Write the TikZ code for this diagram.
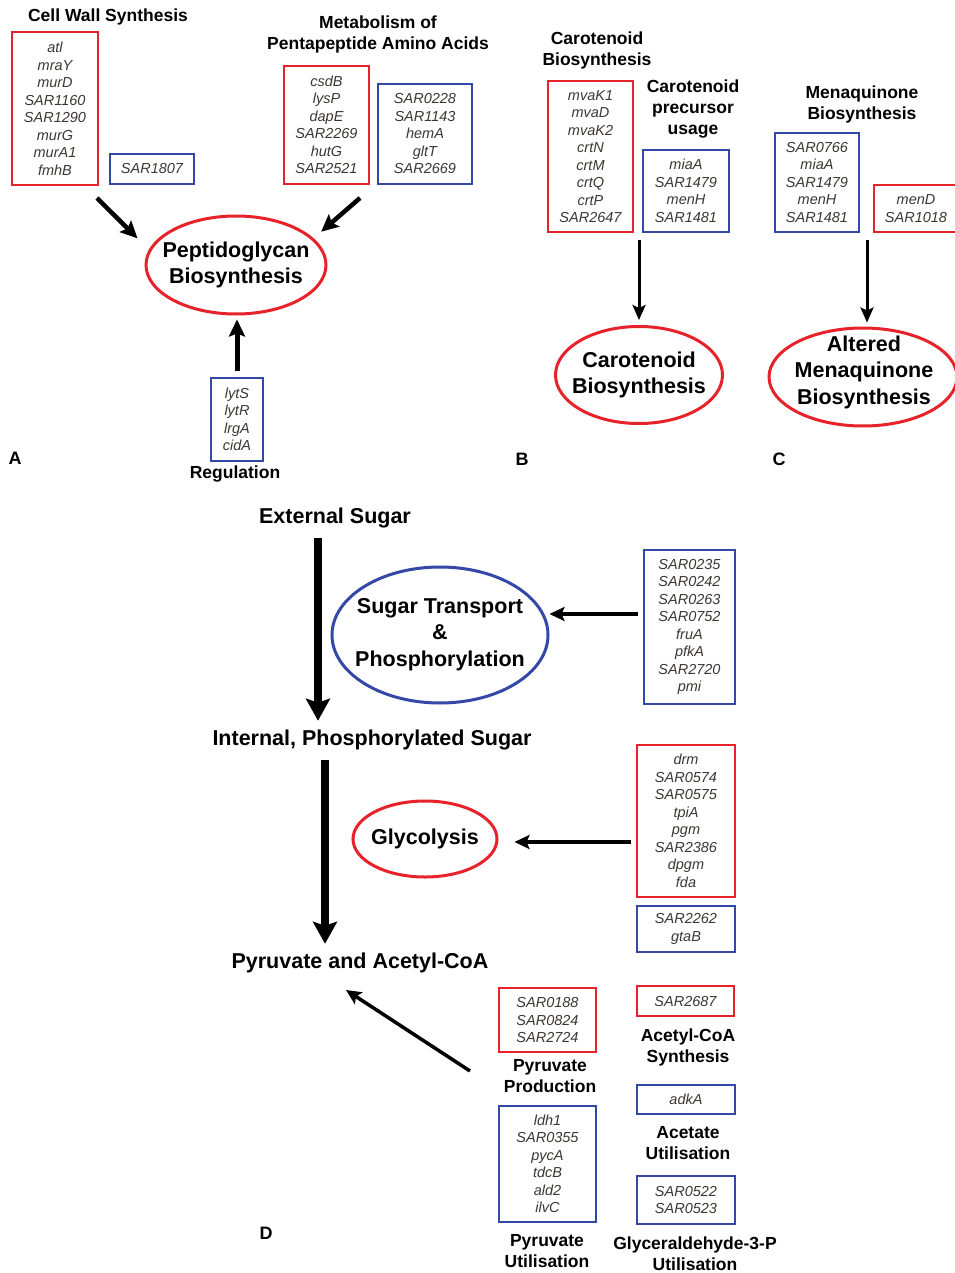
\documentclass[tikz,border=0pt]{standalone}
\usepackage{fontspec}
\setmainfont{Liberation Sans}
\usetikzlibrary{shapes.geometric,arrows.meta,calc}
\definecolor{rd}{RGB}{232,34,42}
\definecolor{bl}{RGB}{52,72,168}
\definecolor{gtxt}{RGB}{60,55,50}
\newcommand\gbox[7]{\node[gbox, draw=#2, minimum width={(#5-#3)*1pt}, minimum height={(#6-#4)*1pt}] (#1) at ({(#3+#5)/2},{-(#4+#6)/2}) {#7};}
\tikzset{
  gbox/.style={rectangle, line width=2.5pt, inner sep=0pt, align=center, text=gtxt,
    font=\fontsize{14.5}{17.5}\selectfont\itshape},
  ttl/.style={inner sep=0pt, align=center, text=black, font=\fontsize{17.5}{21}\selectfont\bfseries},
  big/.style={inner sep=0pt, align=center, text=black, font=\fontsize{21.5}{26.5}\selectfont\bfseries},
  ell/.style={ellipse, line width=3pt, inner sep=0pt},
  letter/.style={inner sep=0pt, font=\fontsize{18}{20}\selectfont\bfseries},
  arrA/.style={line width=4.5pt, -{Stealth[length=17pt,width=16pt,inset=3pt]}},
  arrB/.style={line width=3pt, -{Stealth[length=15pt,width=13pt,inset=3pt]}},
  bigarr/.style={line width=8pt, -{Stealth[length=22pt,width=24pt,inset=4pt]}},
  medarr/.style={line width=3.5pt, -{Stealth[length=15pt,width=14pt,inset=3pt]}},
}
\begin{document}
\begin{tikzpicture}[x=1pt,y=1pt]
\useasboundingbox[fill=white] (0,0) rectangle (954,-1273);
% ---------- Panel A
\node[ttl] (tcw) at (108,-17) {Cell Wall Synthesis};
\node[ttl] (tpp) at (378,-34) {Metabolism of\\Pentapeptide Amino Acids};
\gbox{cwr}{rd}{12}{32}{98}{185}{atl\\mraY\\murD\\SAR1160\\SAR1290\\murG\\murA1\\fmhB}
\gbox{cwb}{bl}{110}{154}{194}{184}{SAR1807}
\gbox{ppr}{rd}{284}{66}{369}{184}{csdB\\lysP\\dapE\\SAR2269\\hutG\\SAR2521}
\gbox{ppb}{bl}{378}{84}{472}{184}{SAR0228\\SAR1143\\hemA\\gltT\\SAR2669}
\gbox{reg}{bl}{211}{378}{263}{461}{lytS\\lytR\\lrgA\\cidA}
\node[ttl] (treg) at (235,-474) {Regulation};
\node[ell, draw=rd, minimum width=180pt, minimum height=98pt] (pg) at (236,-265) {};
\node[big] (pgt) at (pg) {Peptidoglycan\\Biosynthesis};
\coordinate (a1) at (97,-198);
\coordinate (a2) at (360,-198);
\draw[arrA, shorten >=16pt] (a1) -- (pg.170);
\draw[arrA, shorten >=10pt] (a2) -- (pg.19);
\draw[arrA, line width=5pt, shorten <=6pt, shorten >=4pt] (reg.north) -- (reg.north |- pg.south);
\node[letter] (la) at (15,-458) {A};
% ---------- Panel B
\node[ttl] (tcb) at (597,-50.5) {Carotenoid\\Biosynthesis};
\node[ttl] (tcp) at (693,-109) {Carotenoid\\precursor\\usage};
\gbox{cbr}{rd}{548}{81}{633}{232}{mvaK1\\mvaD\\mvaK2\\crtN\\crtM\\crtQ\\crtP\\SAR2647}
\gbox{cbb}{bl}{643}{150}{729}{232}{miaA\\SAR1479\\menH\\SAR1481}
\node[ell, draw=rd, minimum width=167pt, minimum height=97pt] (car) at (639,-375) {};
\node[big] (cart) at (car) {Carotenoid\\Biosynthesis};
\coordinate (b1) at (639,-240);
\draw[arrB, shorten >=5pt] (b1) -- (car.north);
\node[letter] (lb) at (522,-459) {B};
% ---------- Panel C
\node[ttl] (tmq) at (862,-104.5) {Menaquinone\\Biosynthesis};
\gbox{mqb}{bl}{775}{133}{859}{232}{SAR0766\\miaA\\SAR1479\\menH\\SAR1481}
\gbox{mqr}{rd}{874}{185}{958}{232}{menD\\SAR1018\hspace{6pt}}
\node[ell, draw=rd, minimum width=188pt, minimum height=98pt] (men) at (863,-377) {};
\node[big] (ment) at (864,-372) {Altered\\Menaquinone\\Biosynthesis};
\coordinate (c1) at (867,-240);
\draw[arrB, shorten >=4pt] (c1) -- (c1 |- men.north);
\node[letter] (lc) at (779,-459) {C};
% ---------- Panel D
\node[big] (ext) at (335,-518) {External Sugar};
\node[big] (int) at (372,-740) {Internal, Phosphorylated Sugar};
\node[big] (pa) at (360,-963) {Pyruvate and Acetyl-CoA};
\node[ell, draw=bl, minimum width=216pt, minimum height=136pt] (st) at (440,-635) {};
\node[big] (stt) at (440,-634.5) {Sugar Transport\\\&\\Phosphorylation};
\node[ell, draw=rd, minimum width=144pt, minimum height=76pt] (gly) at (425,-839) {};
\node[big] (glyt) at (gly) {Glycolysis};
\gbox{stb}{bl}{644}{550}{735}{704}{SAR0235\\SAR0242\\SAR0263\\SAR0752\\fruA\\pfkA\\SAR2720\\pmi}
\gbox{gr}{rd}{637}{745}{735}{897}{drm\\SAR0574\\SAR0575\\tpiA\\pgm\\SAR2386\\dpgm\\fda}
\gbox{gb}{bl}{637}{906}{735}{952}{SAR2262\\gtaB}
\gbox{ppd}{rd}{499}{988}{596}{1052}{SAR0188\\SAR0824\\SAR2724}
\gbox{pu}{bl}{499}{1106}{596}{1222}{ldh1\\SAR0355\\pycA\\tdcB\\ald2\\ilvC}
\gbox{acs}{rd}{637}{986}{734}{1016}{SAR2687}
\gbox{acu}{bl}{637}{1085}{735}{1114}{adkA}
\gbox{g3p}{bl}{637}{1176}{735}{1224}{SAR0522\\SAR0523}
\node[ttl] (tpd) at (550,-1076.5) {Pyruvate\\Production};
\node[ttl] (tpu) at (547,-1251.5) {Pyruvate\\Utilisation};
\node[ttl] (tas) at (688,-1047.5) {Acetyl-CoA\\Synthesis};
\node[ttl] (tau) at (688,-1143.5) {Acetate\\Utilisation};
\node[ttl] (tgu) at (695,-1253.5) {Glyceraldehyde-3-P\\Utilisation};
\coordinate (d1) at (318,-538);
\draw[bigarr, shorten >=9pt] (d1) -- (d1 |- int.north);
\coordinate (d2) at (325,-760);
\draw[bigarr, shorten >=9pt] (d2) -- (d2 |- pa.north);
\coordinate (d3) at (638,-614);
\draw[medarr] (d3) -- (d3 -| st.east);
\coordinate (d4) at (631,-842);
\draw[medarr, shorten >=16pt] (d4) -- (d4 -| gly.east);
\coordinate (d5) at (470,-1071);
\coordinate (d5e) at (346,-990);
\draw[medarr] (d5) -- (d5e);
\node[letter] (ld) at (266,-1233) {D};
\end{tikzpicture}
\end{document}
